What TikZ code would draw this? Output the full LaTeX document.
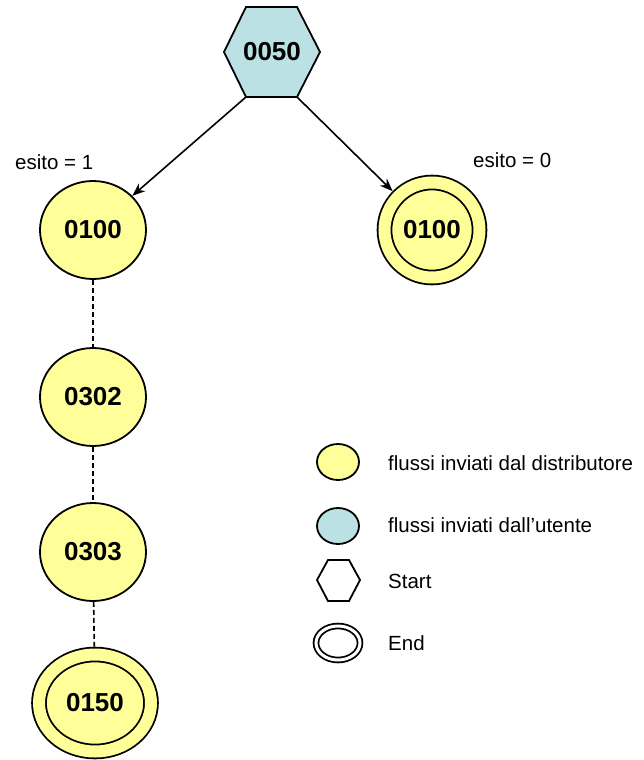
\documentclass[tikz,border=0pt]{standalone}
\usepackage{fontspec}
\setmainfont{Liberation Sans}
\usetikzlibrary{shapes.geometric,arrows.meta}
\definecolor{yfill}{HTML}{FFFF99}
\definecolor{bfill}{HTML}{BCE1E4}
\begin{document}
\begin{tikzpicture}[x=1pt,y=-1pt,
  state/.style={ellipse,draw,line width=1.8pt,fill=yfill,inner sep=0pt,
    font=\fontsize{26}{30}\selectfont\bfseries},
  endstate/.style={state,double=yfill,double distance=12pt},
  lbl/.style={font=\fontsize{20.5}{24}\selectfont,inner sep=0pt},
  arr/.style={-{Stealth[length=13pt,width=10pt]},line width=1.6pt},
  dashline/.style={line width=1.6pt,dash pattern=on 5pt off 3pt}]
\useasboundingbox (0,0) rectangle (644,760);
% start hexagon
\draw[fill=bfill,line width=1.8pt] (224,52) -- (246,7) -- (297,7) -- (320,52) -- (297,97) -- (246,97) -- cycle;
\node[font=\fontsize{26}{30}\selectfont\bfseries,inner sep=0pt] (s) at (272,52) {0050};
\coordinate (sl) at (246,97);
\coordinate (sr) at (297,97);
% states
\node[state,minimum width=106pt,minimum height=98pt] (a) at (93,230) {0100};
\node[endstate,minimum width=95pt,minimum height=95pt,outer sep=7.8pt] (b) at (432,230) {0100};
\node[state,minimum width=106pt,minimum height=98pt] (c) at (93,397) {0302};
\node[state,minimum width=106pt,minimum height=98pt] (d) at (93,552) {0303};
\node[endstate,minimum width=112pt,minimum height=97pt,outer sep=7.8pt] (e) at (95,703) {0150};
% connectors
\draw[arr] (sl) -- (a);
\draw[arr] (sr) -- (b);
\draw[dashline] (a) -- (c);
\draw[dashline] (c) -- (d);
\draw[dashline] (d) -- (e);
% labels
\node[lbl,anchor=west] (l1) at (15,162) {esito = 1};
\node[lbl,anchor=west] (l0) at (473,160) {esito = 0};
% legend
\node[ellipse,draw,line width=1.8pt,fill=yfill,minimum width=42pt,minimum height=36pt] (ky) at (338,462) {};
\node[lbl,anchor=west] (ty) at (388,463) {flussi inviati dal distributore};
\node[ellipse,draw,line width=1.8pt,fill=bfill,minimum width=42pt,minimum height=36pt] (kb) at (338,526) {};
\node[lbl,anchor=west] (tb) at (388,525) {flussi inviati dall’utente};
\draw[line width=1.8pt] (317,580) -- (328,560) -- (349,560) -- (360,580) -- (349,601) -- (328,601) -- cycle;
\coordinate (kh) at (338,580);
\node[lbl,anchor=west] (th) at (388,581) {Start};
\node[ellipse,draw,line width=1.8pt,double=white,double distance=3pt,minimum width=44pt,minimum height=34pt] (ke) at (338,643) {};
\node[lbl,anchor=west] (te) at (388,643) {End};
\end{tikzpicture}
\end{document}
